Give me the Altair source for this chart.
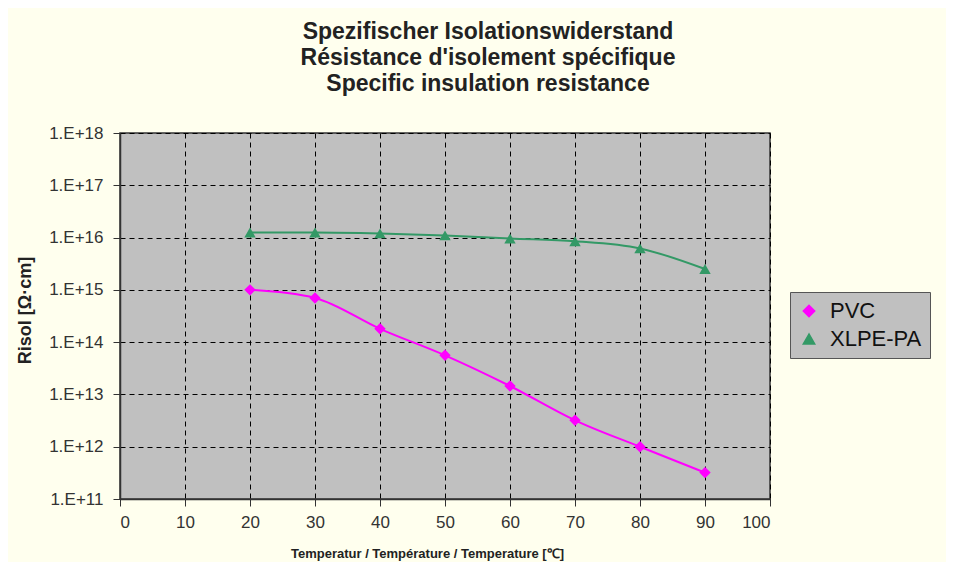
import altair as alt
import pandas as pd

temps = [20, 30, 40, 50, 60, 70, 80, 90]
pvc = [1.0e15, 7.0e14, 1.8e14, 5.6e13, 1.45e13, 3.2e12, 1.0e12, 3.2e11]
xlpe = [1.25e16, 1.25e16, 1.2e16, 1.1e16, 9.6e15, 8.5e15, 6.2e15, 2.5e15]
series_names = ["PVC", "XLPE-PA"]
series_colors = ["#FF00FF", "#339966"]
series_shapes = ["diamond", "triangle-up"]
x_ticks = [0, 10, 20, 30, 40, 50, 60, 70, 80, 90, 100]
y_ticks = [1e11, 1e12, 1e13, 1e14, 1e15, 1e16, 1e17, 1e18]

rows = []
for t, v in zip(temps, pvc):
    rows.append({"T": t, "R": v, "Serie": "PVC"})
for t, v in zip(temps, xlpe):
    rows.append({"T": t, "R": v, "Serie": "XLPE-PA"})
df = pd.DataFrame(rows)

FONT = "Liberation Sans"

x_enc = alt.X(
    "T:Q",
    scale=alt.Scale(domain=[0, 100], nice=False, zero=False),
    axis=alt.Axis(
        values=x_ticks,
        title="Temperatur / Température / Temperature [℃]",
        titleFont=FONT, titleFontSize=13, titleFontWeight="bold", titleColor="#222",
        titleX=307, titleY=54, titleAnchor="middle", titleAlign="center", titleBaseline="middle",
        labelFont=FONT, labelFontSize=17, labelColor="#333", labelPadding=8,
        tickSize=7, tickColor="#333", domainColor="#333", domainWidth=1.5,
        grid=True, gridColor="#000", gridDash=[5, 4], gridWidth=1,
    ),
)
y_enc = alt.Y(
    "R:Q",
    scale=alt.Scale(type="log", domain=[1e11, 1e18], nice=False),
    axis=alt.Axis(
        values=y_ticks,
        labelExpr="'1.E+' + round(log(datum.value)/LN10)",
        title="Risol [Ω·cm]",
        titleFont=FONT, titleFontSize=18, titleFontWeight="bold", titleColor="#222",
        titleX=-95, titleY=177, titleAngle=-90, titleAlign="center", titleBaseline="middle",
        labelFont=FONT, labelFontSize=17, labelColor="#333", labelPadding=10,
        tickSize=7, tickColor="#333", domainColor="#333", domainWidth=1.5,
        grid=True, gridColor="#000", gridDash=[5, 4], gridWidth=1,
    ),
)
legend = alt.Legend(
    title=None, orient="none", legendX=670, legendY=159,
    labelFont=FONT, labelFontSize=22, labelColor="#111",
    fillColor="#C0C0C0", strokeColor="#555", padding=8,
    symbolSize=130, rowPadding=6, labelOffset=10,
)
color_scale = alt.Scale(domain=series_names, range=series_colors)
shape_scale = alt.Scale(domain=series_names, range=series_shapes)

base = alt.Chart(df)
lines = base.mark_line(interpolate="monotone", strokeWidth=2).encode(
    x=x_enc, y=y_enc,
    color=alt.Color("Serie:N", scale=color_scale, legend=legend),
)
points = base.mark_point(filled=True, size=130, opacity=1).encode(
    x="T:Q", y="R:Q",
    color=alt.Color("Serie:N", scale=color_scale, legend=legend),
    shape=alt.Shape("Serie:N", scale=shape_scale, legend=legend),
)

chart = alt.layer(lines, points).properties(
    width=650,
    height=366,
    background="#FFFFEE",
    padding={"left": 112, "top": 125, "right": 176, "bottom": 63},
    autosize=alt.AutoSizeParams(type="none"),
    title=alt.TitleParams(
        text=["Spezifischer Isolationswiderstand", "Résistance d'isolement spécifique", "Specific insulation resistance"],
        font=FONT, fontSize=23, fontWeight="bold", color="#222",
        anchor="middle", dx=43, offset=28, lineHeight=26,
    ),
).configure_view(
    fill="#C0C0C0", stroke="#333", strokeWidth=1.5
)

chart.save("out.html", embed_options={"renderer": "svg", "actions": False})
